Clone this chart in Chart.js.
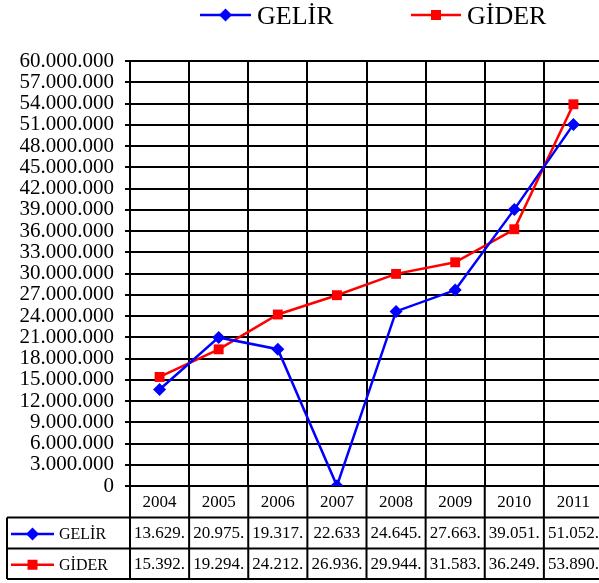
<!DOCTYPE html>
<html>
<head>
<meta charset="utf-8">
<script src="https://cdn.jsdelivr.net/npm/chart.js@4.4.1/dist/chart.umd.min.js"></script>
<style>
    html, body { margin: 0; padding: 0; background: #fff; overflow: hidden; }
    #wrap { width: 610px; height: 583px; }
</style>
</head>
<body>
<div id="wrap"><canvas id="chart" width="610" height="583"></canvas></div>
<script>
// Data
const years = ['2004', '2005', '2006', '2007', '2008', '2009', '2010', '2011'];
const gelir = [13629000, 20975000, 19317000, 22633, 24645000, 27663000, 39051000, 51052000];
const gider = [15392000, 19294000, 24212000, 26936000, 29944000, 31583000, 36249000, 53890000];
const seriesNames = ['GELİR', 'GİDER'];
const seriesColors = ['#0000FF', '#FF0000'];
const yMax = 60000000;
const yStep = 3000000;

const FONT = "'Liberation Serif', 'Times New Roman', serif";

function dotted(v) {
    return String(Math.round(v)).replace(/\B(?=(\d{3})+(?!\d))/g, '.');
}

function drawMarker(ctx, kind, x, y, color) {
    ctx.fillStyle = color;
    ctx.beginPath();
    if (kind === 'diamond') {
        const r = 6.5;
        ctx.moveTo(x, y - r);
        ctx.lineTo(x + r, y);
        ctx.lineTo(x, y + r);
        ctx.lineTo(x - r, y);
        ctx.closePath();
    } else {
        ctx.rect(x - 5, y - 5, 10, 10);
    }
    ctx.fill();
}

function drawKey(ctx, idx, x1, x2, y) {
    ctx.strokeStyle = seriesColors[idx];
    ctx.lineWidth = 2.5;
    ctx.beginPath();
    ctx.moveTo(x1, y);
    ctx.lineTo(x2, y);
    ctx.stroke();
    drawMarker(ctx, idx === 0 ? 'diamond' : 'square', (x1 + x2) / 2, y, seriesColors[idx]);
    ctx.fillStyle = '#000';
}

// Legend at the top and data table below the plot
const tablePlugin = {
    id: 'tablePlugin',
    afterDraw(chart) {
        const ctx = chart.ctx;
        const xs = chart.scales.x;
        const area = chart.chartArea;
        const colW = (area.right - area.left) / years.length;
        const rowTop = [area.bottom, 517.5, 548.5, 579];

        ctx.save();
        // top legend
        ctx.textBaseline = 'middle';
        ctx.textAlign = 'left';
        drawKey(ctx, 0, 200, 251, 15);
        drawKey(ctx, 1, 411, 461, 15);
        ctx.font = '26px ' + FONT;
        ctx.fillStyle = '#000';
        ctx.fillText(seriesNames[0], 257, 17);
        ctx.fillText(seriesNames[1], 467, 17);

        // table grid
        ctx.strokeStyle = '#000';
        ctx.lineWidth = 2;
        ctx.beginPath();
        for (let i = 0; i <= years.length; i++) {
            const x = area.left + i * colW;
            ctx.moveTo(x, rowTop[0]);
            ctx.lineTo(x, rowTop[3]);
        }
        ctx.moveTo(7, rowTop[1]);
        ctx.lineTo(area.right, rowTop[1]);
        ctx.moveTo(7, rowTop[2]);
        ctx.lineTo(area.right, rowTop[2]);
        ctx.moveTo(7, rowTop[3]);
        ctx.lineTo(area.right, rowTop[3]);
        ctx.moveTo(7, rowTop[1]);
        ctx.lineTo(7, rowTop[3]);
        ctx.stroke();

        // year row
        ctx.font = '17px ' + FONT;
        ctx.fillStyle = '#000';
        ctx.textAlign = 'center';
        years.forEach((yr, i) => {
            ctx.fillText(yr, xs.getPixelForValue(i), (rowTop[0] + rowTop[1]) / 2 + 1);
        });

        // value rows
        [gelir, gider].forEach((vals, s) => {
            const cy = (rowTop[s + 1] + rowTop[s + 2]) / 2 + 1;
            drawKey(ctx, s, 11, 54, cy);
            ctx.font = '16px ' + FONT;
            ctx.fillStyle = '#000';
            ctx.textAlign = 'left';
            ctx.fillText(seriesNames[s], 59, cy + 1);
            ctx.font = '17px ' + FONT;
            ctx.textAlign = 'center';
            vals.forEach((v, i) => {
                ctx.fillText(dotted(v).slice(0, 7), xs.getPixelForValue(i), cy);
            });
        });
        ctx.restore();
    }
};

const ctx = document.getElementById('chart').getContext('2d');
const chart = new Chart(ctx, {
    type: 'line',
    data: {
        labels: years,
        datasets: [{
            label: seriesNames[0],
            data: gelir,
            borderColor: seriesColors[0],
            backgroundColor: seriesColors[0],
            borderWidth: 2.5,
            pointStyle: 'rectRot',
            pointRadius: 6.5,
            pointBorderWidth: 0,
            tension: 0
        }, {
            label: seriesNames[1],
            data: gider,
            borderColor: seriesColors[1],
            backgroundColor: seriesColors[1],
            borderWidth: 2.5,
            pointStyle: 'rect',
            pointRadius: 7,
            pointBorderWidth: 0,
            tension: 0
        }]
    },
    options: {
        responsive: false,
        animation: false,
        devicePixelRatio: 1,
        layout: {
            padding: { left: 0, right: 4, top: 61, bottom: 97 }
        },
        plugins: {
            legend: { display: false },
            tooltip: { enabled: false }
        },
        scales: {
            x: {
                offset: true,
                grid: {
                    offset: true,
                    color: '#000',
                    lineWidth: 2,
                    drawTicks: false
                },
                border: { color: '#000', width: 2 },
                ticks: { display: false }
            },
            y: {
                min: 0,
                max: yMax,
                afterFit(scale) { scale.width = 130; },
                grid: {
                    color: '#000',
                    lineWidth: 2,
                    tickLength: 5
                },
                border: { color: '#000', width: 2 },
                ticks: {
                    stepSize: yStep,
                    autoSkip: false,
                    color: '#000',
                    padding: 11,
                    font: { family: FONT, size: 21, lineHeight: 1 },
                    callback: function(value) {
                        return dotted(value);
                    }
                }
            }
        }
    },
    plugins: [tablePlugin]
});
</script>
</body>
</html>
